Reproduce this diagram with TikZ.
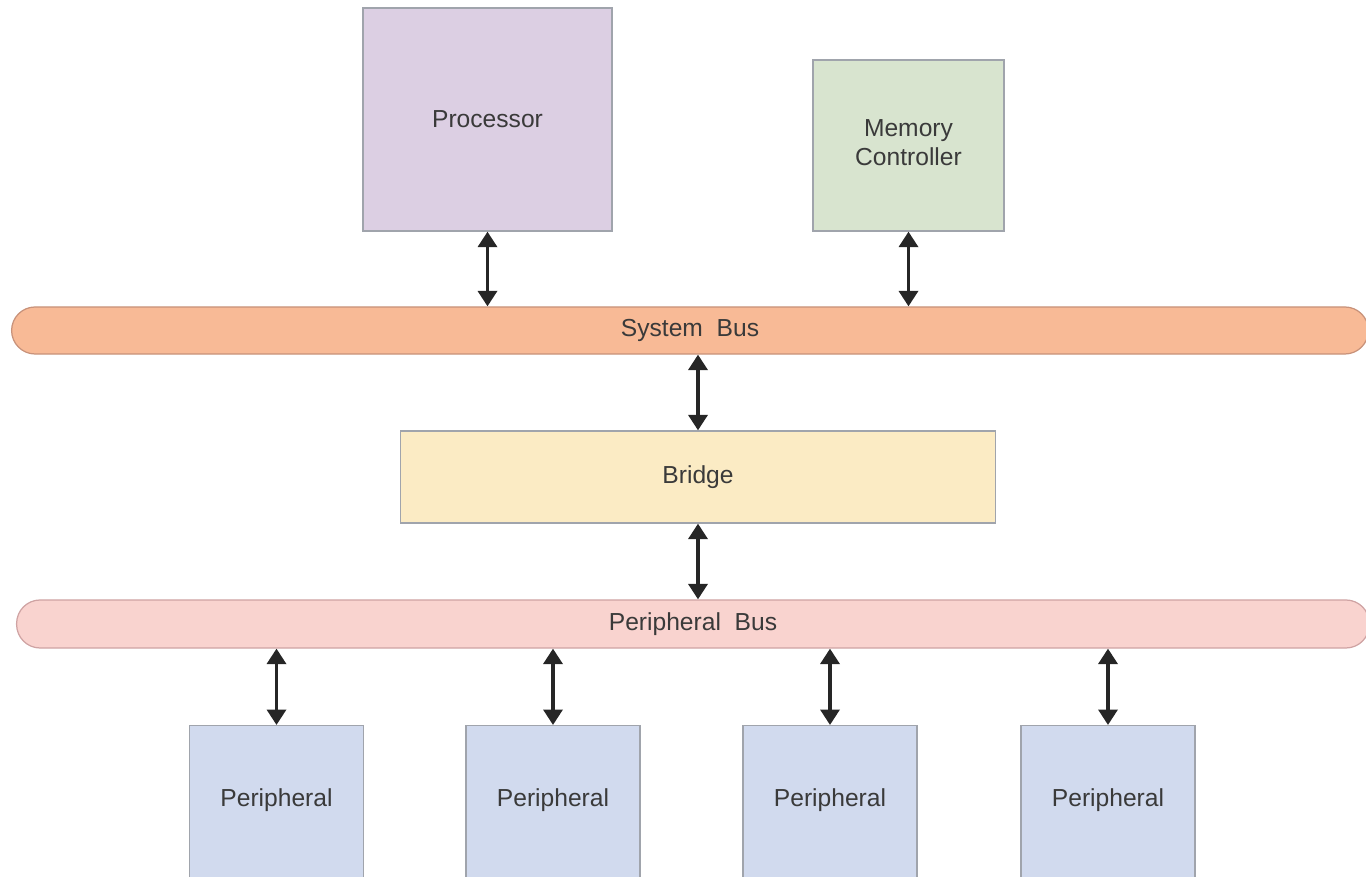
\documentclass[tikz,border=0pt]{standalone}
\usepackage{fontspec}
\setmainfont{Liberation Sans}
\usepackage{xcolor}
\usetikzlibrary{positioning, arrows.meta}

\definecolor{procfill}{HTML}{DCCFE3}
\definecolor{memfill}{HTML}{D8E4CF}
\definecolor{sysfill}{HTML}{F8BA96}
\definecolor{sysline}{HTML}{C8927A}
\definecolor{bridgefill}{HTML}{FBEBC4}
\definecolor{perbusfill}{HTML}{F9D3CF}
\definecolor{perbusline}{HTML}{CFA3A3}
\definecolor{perfill}{HTML}{D1DAEE}
\definecolor{boxline}{HTML}{A0A4AC}
\definecolor{labeltext}{HTML}{3A3A3A}

\begin{document}
\begin{tikzpicture}[
    x=0.01cm, y=-0.01cm,
    every node/.style={font=\fontsize{7}{8.2}\selectfont, text=labeltext},
    block/.style={draw=boxline, line width=0.35pt, rectangle, inner sep=0pt, align=center},
    bus/.style={draw, line width=0.35pt, rectangle, rounded corners=0.235cm, minimum width=13.56cm, minimum height=0.47cm, inner sep=0pt},
    link/.style={{Triangle[width=5.4pt,length=4.4pt]}-{Triangle[width=5.4pt,length=4.4pt]}, line width=1pt, draw=black!85}
]
\clip (0,0) rectangle (1366,877);
\useasboundingbox (0,0) rectangle (1366,877);

\node[block, fill=procfill, minimum width=2.49cm, minimum height=2.23cm] (proc) at (487.5,119.5) {Processor};
\node[block, fill=memfill, minimum width=1.91cm, minimum height=1.71cm] (mem) at (908.5,145.5) {};
\node[align=center] (memtext) at (908.5,142.5) {Memory\\Controller};
\node[bus, draw=sysline, fill=sysfill] (sysbus) at (690,330.5) {System~ Bus};
\node[block, fill=bridgefill, minimum width=5.94cm, minimum height=0.92cm] (bridge) at (698,477) {Bridge};
\node[bus, draw=perbusline, fill=perbusfill, minimum width=13.52cm, minimum height=0.48cm] (perbus) at (693,624) {Peripheral~ Bus};

% peripherals run off the bottom edge
\foreach \i/\x in {1/276.5, 2/553, 3/830, 4/1108} {
    \node[block, fill=perfill, minimum width=1.74cm, minimum height=1.8cm, anchor=north] (per\i) at (\x,725) {};
    \node (pertext\i) at (\x,800) {Peripheral};
    \draw[link] (per\i.north) -- (per\i.north |- perbus.south);
}

\draw[link] (proc.south) -- (proc.south |- sysbus.north);
\draw[link] (mem.south) -- (mem.south |- sysbus.north);
\draw[link] (sysbus.south -| bridge.north) -- (bridge.north);
\draw[link] (bridge.south) -- (bridge.south |- perbus.north);
\end{tikzpicture}
\end{document}
